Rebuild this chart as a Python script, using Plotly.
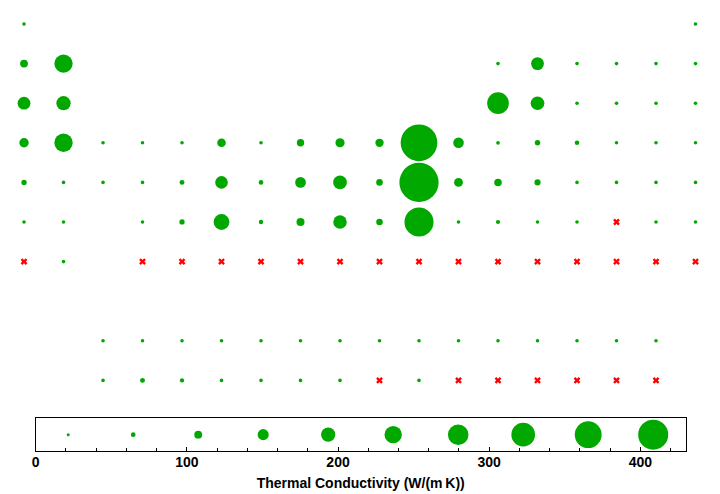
import plotly.graph_objects as go

# Thermal conductivity (W/(m K)) laid out like the periodic table.
# None = no element in that cell, MISSING = element without data (red cross)
MISSING = "missing"

period1 = [0.1805] + [None] * 16 + [0.1513]
period2 = [85, 200] + [None] * 10 + [27, 140, 0.02583, 0.02658, 0.0277, 0.0491]
period3 = [140, 156] + [None] * 10 + [237, 149, 0.236, 0.205, 0.0089, 0.01772]
period4 = [102.5, 201, 15.8, 21.9, 30.7, 93.9, 7.81, 80.4, 100, 90.9, 401, 116,
           40.6, 60.2, 50, 0.52, 0.122, 0.00943]
period5 = [58.2, 35.4, 17.2, 22.7, 53.7, 138, 50.6, 117, 150, 71.8, 429, 96.6,
           81.8, 66.8, 24.4, 2.35, 0.449, 0.00565]
period6 = [35.9, 18.4, None, 23, 57.5, 173, 47.9, 87.6, 147, 71.6, 318, 8.3,
           46.1, 35.3, 7.97, MISSING, 1.7, 0.00361]
period7 = [MISSING, 18.6, None] + [MISSING] * 15
spacer = [None] * 18
lanthanides = [None, None, 13.4, 11.3, 12.5, 16.5, 17.9, 13.3, 13.9, 10.6, 11.1,
               10.7, 16.2, 14.5, 16.9, 38.5, 16.4, None]
actinides = [None, None, 12, 54, 47, 27.5, 6.3, 6.74, 10, MISSING, 10,
             MISSING, MISSING, MISSING, MISSING, MISSING, MISSING, None]

rows = [period1, period2, period3, period4, period5, period6, period7,
        spacer, lanthanides, actinides]

legend_values = [21.5, 64.5, 107.5, 150.5, 193.5, 236.5, 279.5, 322.5, 365.5, 408.5]
axis_ticks = [0, 100, 200, 300, 400]

GREEN = "rgb(0,168,0)"
RED = "rgb(255,0,0)"

gx, gy, gs, gt = [], [], [], []
mx, my = [], []
for r, row in enumerate(rows, start=1):
    for g, v in enumerate(row, start=1):
        if v is None:
            continue
        if v == MISSING:
            mx.append(g)
            my.append(r)
        else:
            gx.append(g)
            gy.append(r)
            gs.append(max(3.6, 0.0915 * v))
            gt.append(v)

fig = go.Figure()
fig.add_trace(go.Scatter(
    x=gx, y=gy, mode="markers", text=gt,
    marker=dict(size=gs, color=GREEN, opacity=1, line=dict(width=0)),
    xaxis="x", yaxis="y", showlegend=False,
    hovertemplate="%{text} W/(m K)<extra></extra>"))
fig.add_trace(go.Scatter(
    x=mx, y=my, mode="markers",
    marker=dict(size=6, color=RED, opacity=1, symbol="x", line=dict(width=0)),
    xaxis="x", yaxis="y", showlegend=False, hoverinfo="skip"))
fig.add_trace(go.Scatter(
    x=legend_values, y=[0.5] * len(legend_values), mode="markers",
    marker=dict(size=[max(3, 0.0735 * v) for v in legend_values], color=GREEN,
                opacity=1, line=dict(width=0)),
    xaxis="x2", yaxis="y2", showlegend=False,
    hovertemplate="%{x}<extra></extra>"))

fig.update_layout(
    width=720, height=494,
    margin=dict(l=0, r=0, t=0, b=0, autoexpand=False),
    paper_bgcolor="white", plot_bgcolor="white",
    xaxis=dict(domain=[0, 1], range=[0.392, 18.62], visible=False, automargin=False),
    yaxis=dict(domain=[0.1903, 1], range=[10.495, 0.394], visible=False,
               automargin=False),
    xaxis2=dict(domain=[35.7 / 720, 685.7 / 720], range=[0, 430], anchor="y2",
                automargin=False,
                showline=True, linecolor="black", linewidth=1.3, mirror=True,
                showgrid=False, zeroline=False,
                tickvals=axis_ticks, ticks="inside", ticklen=4, tickcolor="black",
                ticklabelstandoff=-2,
                minor=dict(dtick=20, tick0=0, ticks="inside", ticklen=3,
                           tickcolor="black", showgrid=False),
                tickfont=dict(family="Liberation Sans", size=14, color="black",
                              weight="bold"),
                title=dict(text="Thermal Conductivity (W/(m\u2009K))",
                           font=dict(family="Liberation Sans", size=14,
                                     color="black", weight="bold"),
                           standoff=9)),
    yaxis2=dict(domain=[1 - 451 / 494, 1 - 418.3 / 494], range=[0, 1], anchor="x2",
                automargin=False,
                showline=True, linecolor="black", linewidth=1.3, mirror=True,
                showgrid=False, zeroline=False, showticklabels=False, ticks=""),
)

fig.write_html("out.html")
